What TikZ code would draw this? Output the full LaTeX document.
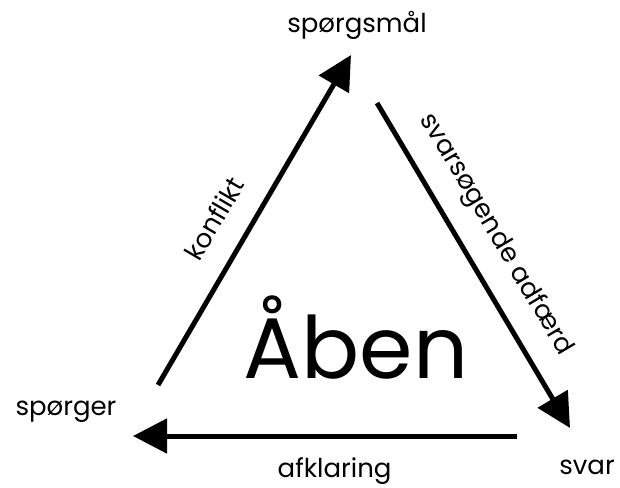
\documentclass[tikz,border=0pt]{standalone}
\usepackage{fontspec}
\setmainfont{Poppins}
\usepackage{tikz}
\usetikzlibrary{arrows.meta, positioning}

\begin{document}
\begin{tikzpicture}[x=1pt, y=-1pt,
    corner/.style={font=\fontsize{26}{30}\selectfont, inner sep=0pt},
    sidelabel/.style={font=\fontsize{26}{30}\selectfont, inner sep=0pt},
    bigword/.style={font=\fontsize{86}{96}\selectfont, inner sep=0pt},
    line/.style={draw, line width=5pt, -{Triangle[length=34pt, width=34pt]}}]
    \useasboundingbox (0,0) rectangle (620,487);

    \node [corner] (spm) at (357,25) {spørgsmål};
    \node [corner] (sporger) at (66,412) {spørger};
    \node [corner] (svar) at (587,467) {svar};
    \node [bigword] (aben) at (356,338) {Åben};

    \coordinate (k1) at (158,385);
    \coordinate (k2) at (351,55);
    \coordinate (s1) at (377,103);
    \coordinate (s2) at (570,428);
    \coordinate (a1) at (517,436);
    \coordinate (a2) at (133,436);

    \path [line] (k1) -- node[sidelabel, sloped, pos=0.45, above=23pt] {konflikt} (k2);
    \path [line] (s1) -- node[sidelabel, sloped, pos=0.46, above=19pt] {svarsøgende adfærd} (s2);
    \path [line] (a1) -- node[sidelabel, pos=0.475, below=19pt] {afklaring} (a2);
\end{tikzpicture}
\end{document}
